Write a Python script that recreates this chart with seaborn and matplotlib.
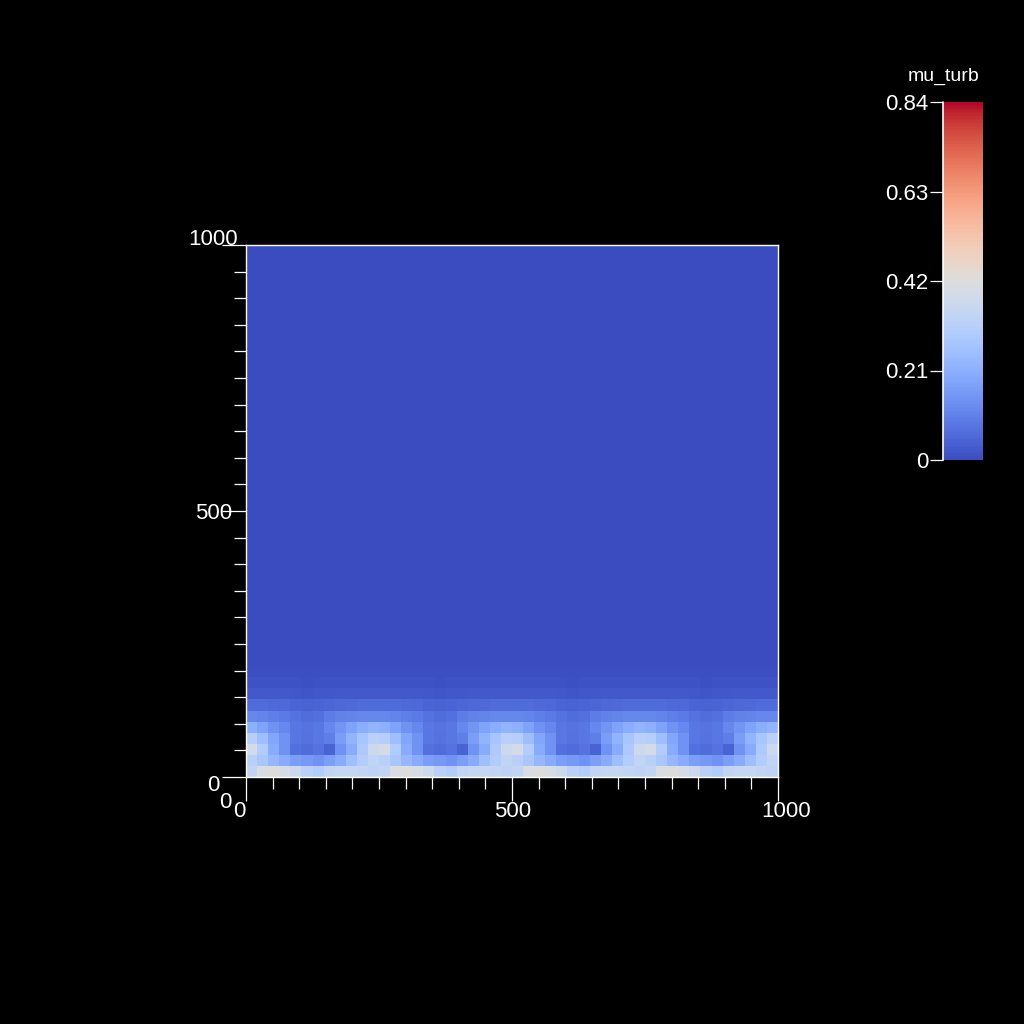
import numpy as np
import pandas as pd
import seaborn as sns
import matplotlib.pyplot as plt
from matplotlib.transforms import ScaledTranslation

# mu_turb field, rows from the bottom wall upward (48 x 48 cells)
r0 = [0.34, 0.41, 0.42, 0.40, 0.37, 0.32, 0.30, 0.34, 0.35, 0.35, 0.34, 0.33,
      0.34, 0.41, 0.42, 0.40, 0.37, 0.32, 0.30, 0.34, 0.35, 0.35, 0.34, 0.33,
      0.34, 0.41, 0.42, 0.40, 0.37, 0.32, 0.30, 0.34, 0.35, 0.35, 0.34, 0.33,
      0.34, 0.41, 0.42, 0.40, 0.37, 0.32, 0.30, 0.34, 0.35, 0.35, 0.34, 0.33]
r1 = [0.32, 0.28, 0.23, 0.20, 0.17, 0.155, 0.14, 0.17, 0.20, 0.25, 0.30, 0.34,
      0.32, 0.28, 0.23, 0.20, 0.17, 0.155, 0.14, 0.17, 0.20, 0.25, 0.30, 0.34,
      0.32, 0.28, 0.23, 0.20, 0.17, 0.155, 0.14, 0.17, 0.20, 0.25, 0.30, 0.34,
      0.32, 0.28, 0.23, 0.20, 0.17, 0.155, 0.14, 0.17, 0.20, 0.25, 0.30, 0.34]
r2 = [0.39, 0.30, 0.20, 0.14, 0.07, 0.06, 0.075, 0.045, 0.14, 0.20, 0.29, 0.37,
      0.39, 0.30, 0.20, 0.14, 0.07, 0.06, 0.075, 0.045, 0.14, 0.20, 0.29, 0.37,
      0.39, 0.30, 0.20, 0.14, 0.07, 0.06, 0.075, 0.045, 0.14, 0.20, 0.29, 0.37,
      0.39, 0.30, 0.20, 0.14, 0.07, 0.06, 0.075, 0.045, 0.14, 0.20, 0.29, 0.37]
r3 = [0.31, 0.25, 0.185, 0.14, 0.085, 0.075, 0.085, 0.10, 0.165, 0.22, 0.275, 0.32,
      0.31, 0.25, 0.185, 0.14, 0.085, 0.075, 0.085, 0.10, 0.165, 0.22, 0.275, 0.32,
      0.31, 0.25, 0.185, 0.14, 0.085, 0.075, 0.085, 0.10, 0.165, 0.22, 0.275, 0.32,
      0.31, 0.25, 0.185, 0.14, 0.085, 0.075, 0.085, 0.10, 0.165, 0.22, 0.275, 0.32]
r4 = [0.21, 0.18, 0.14, 0.115, 0.085, 0.078, 0.085, 0.115, 0.145, 0.18, 0.205, 0.22,
      0.21, 0.18, 0.14, 0.115, 0.085, 0.078, 0.085, 0.115, 0.145, 0.18, 0.205, 0.22,
      0.21, 0.18, 0.14, 0.115, 0.085, 0.078, 0.085, 0.115, 0.145, 0.18, 0.205, 0.22,
      0.21, 0.18, 0.14, 0.115, 0.085, 0.078, 0.085, 0.115, 0.145, 0.18, 0.205, 0.22]
r5 = [0.115, 0.11, 0.10, 0.09, 0.075, 0.065, 0.07, 0.095, 0.105, 0.11, 0.115, 0.115,
      0.115, 0.11, 0.10, 0.09, 0.075, 0.065, 0.07, 0.095, 0.105, 0.11, 0.115, 0.115,
      0.115, 0.11, 0.10, 0.09, 0.075, 0.065, 0.07, 0.095, 0.105, 0.11, 0.115, 0.115,
      0.115, 0.11, 0.10, 0.09, 0.075, 0.065, 0.07, 0.095, 0.105, 0.11, 0.115, 0.115]
r6 = [0.06, 0.06, 0.058, 0.055, 0.048, 0.045, 0.046, 0.05, 0.055, 0.058, 0.06, 0.06,
      0.06, 0.06, 0.058, 0.055, 0.048, 0.045, 0.046, 0.05, 0.055, 0.058, 0.06, 0.06,
      0.06, 0.06, 0.058, 0.055, 0.048, 0.045, 0.046, 0.05, 0.055, 0.058, 0.06, 0.06,
      0.06, 0.06, 0.058, 0.055, 0.048, 0.045, 0.046, 0.05, 0.055, 0.058, 0.06, 0.06]
r7 = [0.026, 0.026, 0.025, 0.023, 0.02, 0.019, 0.02, 0.022, 0.024, 0.025, 0.026, 0.026,
      0.026, 0.026, 0.025, 0.023, 0.02, 0.019, 0.02, 0.022, 0.024, 0.025, 0.026, 0.026,
      0.026, 0.026, 0.025, 0.023, 0.02, 0.019, 0.02, 0.022, 0.024, 0.025, 0.026, 0.026,
      0.026, 0.026, 0.025, 0.023, 0.02, 0.019, 0.02, 0.022, 0.024, 0.025, 0.026, 0.026]
r8 = [0.012, 0.012, 0.012, 0.011, 0.01, 0.009, 0.01, 0.011, 0.011, 0.012, 0.012, 0.012,
      0.012, 0.012, 0.012, 0.011, 0.01, 0.009, 0.01, 0.011, 0.011, 0.012, 0.012, 0.012,
      0.012, 0.012, 0.012, 0.011, 0.01, 0.009, 0.01, 0.011, 0.011, 0.012, 0.012, 0.012,
      0.012, 0.012, 0.012, 0.011, 0.01, 0.009, 0.01, 0.011, 0.011, 0.012, 0.012, 0.012]
r9 = [0.004] * 48
# rest of the domain is uniform
background = 0.001
n_cells = 48

cbar_ticks = [0, 0.21, 0.42, 0.63, 0.84]
cbar_labels = ["0", "0.21", "0.42", "0.63", "0.84"]
axis_ticks = [0, 500, 1000]
axis_labels = ["0", "500", "1000"]

sns.set_theme(style="ticks", rc={
    "figure.facecolor": "black", "axes.facecolor": "black",
    "savefig.facecolor": "black", "text.color": "white",
    "xtick.color": "white", "ytick.color": "white",
    "axes.edgecolor": "white",
})
plt.rcParams['font.family'] = ['Liberation Sans', 'DejaVu Sans']

rows = [r0, r1, r2, r3, r4, r5, r6, r7, r8, r9]
rows += [[background] * n_cells for _ in range(n_cells - len(rows))]
field = pd.DataFrame(np.array(rows))

fig = plt.figure(figsize=(10.24, 10.24), dpi=100)
ax = fig.add_axes([246 / 1024, 1 - 777 / 1024, 532 / 1024, 532 / 1024])
cax = fig.add_axes([943 / 1024, 1 - 460 / 1024, 40 / 1024, 358 / 1024])

sns.heatmap(field, cmap="coolwarm", vmin=0, vmax=0.84, ax=ax, cbar_ax=cax,
            xticklabels=False, yticklabels=False, linewidths=0)
ax.invert_yaxis()  # bottom wall at the bottom

# axis frame and ticks (coordinates 0..1000 over 48 cells)
scale = n_cells / 1000
for s in ax.spines.values():
    s.set_visible(True)
    s.set_color("white")
    s.set_linewidth(1)
ax.set_xticks([t * scale for t in axis_ticks])
ax.set_yticks([t * scale for t in axis_ticks])
ax.set_xticks(np.arange(0, 1001, 50) * scale, minor=True)
ax.set_yticks(np.arange(0, 1001, 50) * scale, minor=True)
ax.set_xticklabels(axis_labels, fontsize=16)
ax.set_yticklabels(axis_labels, fontsize=16)
ax.tick_params(which="major", length=17, width=0.9, direction="out")
ax.tick_params(which="minor", length=8.5, width=0.9, direction="out")
ax.tick_params(axis="x", which="major", pad=0)
ax.tick_params(axis="y", which="major", pad=5.8)

# labels spread outward from the corners, as in the original render
for lab, dx in zip(ax.get_xticklabels(), [-7, 1, 8]):
    lab.set_transform(lab.get_transform() + ScaledTranslation(dx / 100, 0, fig.dpi_scale_trans))
for lab, dy in zip(ax.get_yticklabels(), [6, 0, -8]):
    lab.set_ha("center")
    lab.set_transform(lab.get_transform() + ScaledTranslation(-0.01, -dy / 100, fig.dpi_scale_trans))

# the third axis origin label
fig.text(225 / 1024, 1 - 802 / 1024, "0", ha="center", va="center", fontsize=16, color="white")

# colorbar
cb = ax.collections[0].colorbar
cb.set_ticks(cbar_ticks)
cb.set_ticklabels(cbar_labels)
cb.outline.set_visible(False)
cax.yaxis.set_ticks_position("left")
cax.tick_params(length=9.4, width=0.9, pad=1, labelsize=16, color="white", labelcolor="white")
cax.axvline(0, color="white", lw=1.2, clip_on=False)
fig.text(943.5 / 1024, 1 - 76 / 1024, "mu_turb", ha="center", va="center", fontsize=14, color="white")

fig.savefig("out.png", dpi=100)
